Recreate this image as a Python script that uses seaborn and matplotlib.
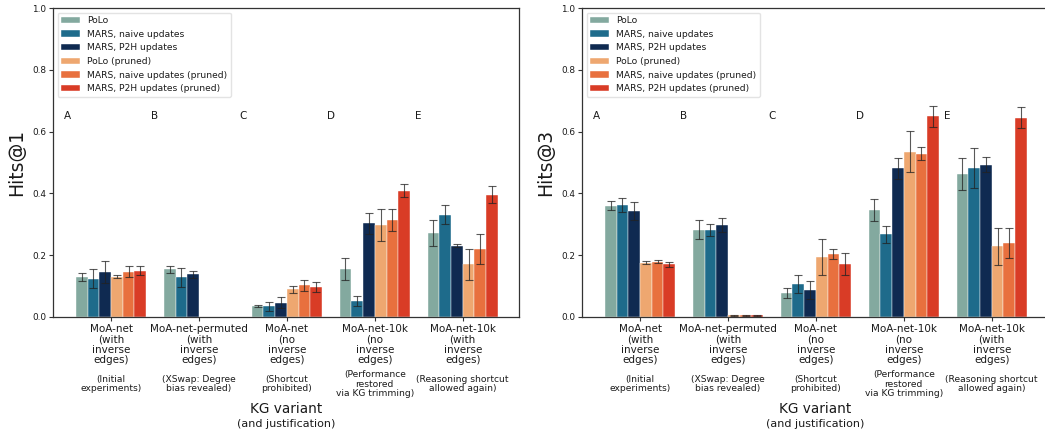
import pandas as pd
import matplotlib
matplotlib.use("Agg")
import matplotlib.pyplot as plt
import matplotlib.transforms as mtransforms
import seaborn as sns
import numpy as np

# --- chart data ---
kg_variants = [
    "MoA-net\n(with\ninverse\nedges)",
    "MoA-net-permuted\n(with\ninverse\nedges)",
    "MoA-net\n(no\ninverse\nedges)",
    "MoA-net-10k\n(no\ninverse\nedges)",
    "MoA-net-10k\n(with\ninverse\nedges)",
]
justifications = [
    "(Initial\nexperiments)",
    "(XSwap: Degree\nbias revealed)",
    "(Shortcut\nprohibited)",
    "(Performance\nrestored\nvia KG trimming)",
    "(Reasoning shortcut\nallowed again)",
]
panel_letters = ["A", "B", "C", "D", "E"]
methods = [
    "PoLo",
    "MARS, naive updates",
    "MARS, P2H updates",
    "PoLo (pruned)",
    "MARS, naive updates (pruned)",
    "MARS, P2H updates (pruned)",
]
colors = ["#83a99f", "#1e6b8b", "#0f2a51", "#eea770", "#e8703e", "#d93c26"]

# one list per method, values per KG variant
hits1_mean = {
    "PoLo": [0.130, 0.154, 0.036, 0.156, 0.272],
    "MARS, naive updates": [0.124, 0.128, 0.034, 0.051, 0.331],
    "MARS, P2H updates": [0.146, 0.138, 0.046, 0.303, 0.231],
    "PoLo (pruned)": [0.130, 0.0, 0.089, 0.297, 0.171],
    "MARS, naive updates (pruned)": [0.146, 0.0, 0.102, 0.314, 0.221],
    "MARS, P2H updates (pruned)": [0.150, 0.0, 0.097, 0.408, 0.396],
}
hits1_err = {
    "PoLo": [0.013, 0.011, 0.004, 0.036, 0.042],
    "MARS, naive updates": [0.031, 0.030, 0.013, 0.016, 0.031],
    "MARS, P2H updates": [0.036, 0.011, 0.018, 0.035, 0.005],
    "PoLo (pruned)": [0.005, np.nan, 0.011, 0.052, 0.050],
    "MARS, naive updates (pruned)": [0.018, np.nan, 0.018, 0.035, 0.048],
    "MARS, P2H updates (pruned)": [0.015, np.nan, 0.016, 0.021, 0.027],
}
hits3_mean = {
    "PoLo": [0.360, 0.283, 0.077, 0.347, 0.464],
    "MARS, naive updates": [0.363, 0.281, 0.107, 0.268, 0.483],
    "MARS, P2H updates": [0.343, 0.298, 0.088, 0.481, 0.493],
    "PoLo (pruned)": [0.176, 0.005, 0.195, 0.535, 0.229],
    "MARS, naive updates (pruned)": [0.179, 0.005, 0.205, 0.529, 0.240],
    "MARS, P2H updates (pruned)": [0.170, 0.005, 0.171, 0.650, 0.645],
}
hits3_err = {
    "PoLo": [0.014, 0.031, 0.017, 0.036, 0.052],
    "MARS, naive updates": [0.023, 0.019, 0.029, 0.027, 0.065],
    "MARS, P2H updates": [0.029, 0.023, 0.029, 0.034, 0.025],
    "PoLo (pruned)": [0.005, 0.001, 0.059, 0.066, 0.060],
    "MARS, naive updates (pruned)": [0.004, 0.001, 0.016, 0.022, 0.049],
    "MARS, P2H updates (pruned)": [0.009, 0.001, 0.036, 0.034, 0.034],
}

sns.set_theme(style="white")
sns.set_style("ticks")
plt.rcParams.update({
    "font.family": ["DejaVu Sans"],
    "text.color": "#1a1a1a",
    "axes.edgecolor": "#333333",
    "axes.linewidth": 0.9,
    "xtick.color": "#333333",
    "ytick.color": "#333333",
    "xtick.labelcolor": "#1a1a1a",
    "ytick.labelcolor": "#1a1a1a",
    "axes.labelcolor": "#1a1a1a",
})


def to_long(means):
    rows = []
    for m in methods:
        for v, val in zip(kg_variants, means[m]):
            rows.append({"KG": v, "Method": m, "value": val})
    return pd.DataFrame(rows)


def draw_panel(ax, means, errs, ylabel):
    df = to_long(means)
    sns.barplot(data=df, x="KG", y="value", hue="Method", order=kg_variants,
                hue_order=methods, palette=colors, width=0.8, gap=0,
                errorbar=None, saturation=1, edgecolor="white",
                linewidth=0.3, ax=ax)
    # error bars on top of each bar
    bar_containers = list(ax.containers)
    for k, cont in enumerate(bar_containers):
        e = errs[methods[k]]
        for j, bar in enumerate(cont):
            if np.isnan(e[j]):
                continue
            ax.errorbar(bar.get_x() + bar.get_width() / 2, bar.get_height(),
                        yerr=e[j], fmt="none", ecolor="#222222", alpha=0.75,
                        elinewidth=0.8, capsize=2.6, capthick=0.8)
    ax.set_ylim(0, 1.0)
    ax.set_xlim(-0.66, 4.64)
    ax.set_yticks([0.0, 0.2, 0.4, 0.6, 0.8, 1.0])
    ax.set_yticklabels([f"{t:.1f}" for t in ax.get_yticks()], fontsize=6.4)
    ax.set_xticks(range(len(kg_variants)))
    ax.set_xticklabels(kg_variants, fontsize=7.5, linespacing=1.05)
    ax.tick_params(axis="both", length=3, width=0.8, pad=2)
    ax.set_xlabel("")
    ax.set_ylabel(ylabel, fontsize=13.5, labelpad=4)
    for s in ["top", "right"]:
        ax.spines[s].set_visible(True)

    trans = mtransforms.blended_transform_factory(ax.transData, ax.transAxes)
    for i, txt in enumerate(justifications):
        ax.text(i, -0.217, txt, transform=trans, ha="center", va="center",
                fontsize=6.6, linespacing=1.05)
    for i, letter in enumerate(panel_letters):
        ax.text(i - 0.54, 0.65, letter, ha="left", va="center", fontsize=7.5)

    ax.text(0.5, -0.298, "KG variant", transform=ax.transAxes, ha="center",
            va="center", fontsize=9.8)
    ax.text(0.5, -0.347, "(and justification)", transform=ax.transAxes,
            ha="center", va="center", fontsize=8)

    ax.legend(loc="upper left", fontsize=6.6, frameon=True, fancybox=True,
              edgecolor="#dddddd", borderaxespad=0.5, labelspacing=0.5)


fig = plt.figure(figsize=(10.45, 4.29), dpi=100)
ax1 = fig.add_axes([53 / 1045, 112 / 429, 466 / 1045, 309 / 429])
ax2 = fig.add_axes([582 / 1045, 112 / 429, 466 / 1045, 309 / 429])

draw_panel(ax1, hits1_mean, hits1_err, "Hits@1")
draw_panel(ax2, hits3_mean, hits3_err, "Hits@3")

fig.savefig("out.png", dpi=100)
